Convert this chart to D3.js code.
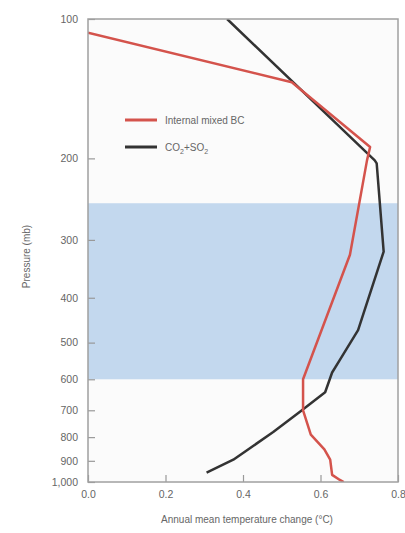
<!DOCTYPE html>
<html>
<head>
<meta charset="utf-8">
<script src="https://cdn.jsdelivr.net/npm/d3@7"></script>
<style>
  body { margin: 0; background: #fff; }
  text { font-family: "Liberation Sans Narrow", "Liberation Sans", sans-serif; fill: #666; }
</style>
</head>
<body>
<div id="chart"></div>
<script>
// tick values
var pressureTicks = [100, 200, 300, 400, 500, 600, 700, 800, 900, 1000];
var tempTicks = [0.0, 0.2, 0.4, 0.6, 0.8];

// shaded layer (mb)
var bandRange = [250, 600];

// Internal mixed BC: [temperature change, pressure]
var bcTemp = [0.0, 0.526, 0.728, 0.72, 0.676, 0.555, 0.555, 0.575, 0.61, 0.625, 0.63, 0.65, 0.66];
var bcPres = [107, 137, 189, 202, 323, 600, 700, 790, 850, 895, 965, 990, 1000];

// CO2+SO2
var co2Temp = [0.359, 0.74, 0.745, 0.763, 0.697, 0.65, 0.63, 0.612, 0.547, 0.478, 0.375, 0.306];
var co2Pres = [100, 202, 205, 318, 470, 545, 580, 640, 705, 780, 895, 955];

var margin = {top: 19, right: 7, bottom: 51, left: 88};
var width = 405 - margin.left - margin.right,
    height = 533 - margin.top - margin.bottom;

var svg = d3.select("#chart")
  .append("svg")
    .attr("width", 405)
    .attr("height", 533)
  .append("g")
    .attr("transform", "translate(" + margin.left + "," + margin.top + ")");

var x = d3.scaleLinear()
  .domain([0, 0.8])
  .range([0, width]);

var y = d3.scaleLog()
  .domain([100, 1000])
  .range([0, height]);

// clip for the lines
svg.append("clipPath")
    .attr("id", "clip")
  .append("rect")
    .attr("width", width)
    .attr("height", height);

// plot background
svg.append("rect")
  .attr("width", width)
  .attr("height", height)
  .attr("fill", "#fbfbfb");

// blue band
svg.append("rect")
  .attr("x", 0)
  .attr("y", y(bandRange[0]))
  .attr("width", width)
  .attr("height", y(bandRange[1]) - y(bandRange[0]))
  .attr("fill", "#c3d8ee");

// Y axis
var yAxis = svg.append("g")
  .call(d3.axisLeft(y)
    .tickValues(pressureTicks)
    .tickFormat(d3.format(","))
    .tickSizeInner(-7)
    .tickSizeOuter(0)
    .tickPadding(10));

// X axis
var xAxis = svg.append("g")
  .attr("transform", "translate(0," + height + ")")
  .call(d3.axisBottom(x)
    .tickValues(tempTicks)
    .tickFormat(d3.format(".1f"))
    .tickSizeInner(-7)
    .tickSizeOuter(0)
    .tickPadding(9));

svg.selectAll(".domain").remove();
svg.selectAll(".tick line").attr("stroke", "#999").attr("stroke-width", 1.2);
svg.selectAll(".tick text").style("font-size", "10.5px").attr("fill", "#666");

// lines
var bcData = bcTemp.map((t, i) => ({t: t, p: bcPres[i]}));
var co2Data = co2Temp.map((t, i) => ({t: t, p: co2Pres[i]}));

var line = d3.line()
  .x(d => x(d.t))
  .y(d => y(d.p));

svg.append("path")
  .datum(co2Data)
  .attr("clip-path", "url(#clip)")
  .attr("fill", "none")
  .attr("stroke", "#333")
  .attr("stroke-width", 2.5)
  .attr("stroke-linejoin", "round")
  .attr("d", line);

svg.append("path")
  .datum(bcData)
  .attr("clip-path", "url(#clip)")
  .attr("fill", "none")
  .attr("stroke", "#d4534c")
  .attr("stroke-width", 2.5)
  .attr("stroke-linejoin", "round")
  .attr("d", line);

// frame
svg.append("rect")
  .attr("width", width)
  .attr("height", height)
  .attr("fill", "none")
  .attr("stroke", "#a0a0a0")
  .attr("stroke-width", 1.5);

// legend
var legend = svg.append("g")
  .attr("transform", "translate(37,101)");

legend.append("line")
  .attr("x1", 0).attr("x2", 32)
  .attr("y1", 0).attr("y2", 0)
  .attr("stroke", "#d4534c")
  .attr("stroke-width", 3);

legend.append("text")
  .attr("x", 40).attr("y", 4)
  .style("font-size", "10px")
  .text("Internal mixed BC");

legend.append("line")
  .attr("x1", 0).attr("x2", 32)
  .attr("y1", 27).attr("y2", 27)
  .attr("stroke", "#333")
  .attr("stroke-width", 3);

var co2Label = legend.append("text")
  .attr("x", 40).attr("y", 31)
  .style("font-size", "10px");
co2Label.append("tspan").text("CO");
co2Label.append("tspan").attr("dy", 3).style("font-size", "7px").text("2");
co2Label.append("tspan").attr("dy", -3).text("+SO");
co2Label.append("tspan").attr("dy", 3).style("font-size", "7px").text("2");

// axis labels
svg.append("text")
  .attr("transform", "translate(-58," + (height / 2 + 6) + ") rotate(-90)")
  .style("text-anchor", "middle")
  .style("font-size", "10px")
  .text("Pressure (mb)");

svg.append("text")
  .attr("transform", "translate(" + (width / 2 + 4) + "," + (height + 41) + ")")
  .style("text-anchor", "middle")
  .style("font-size", "10px")
  .text("Annual mean temperature change (°C)");
</script>
</body>
</html>
